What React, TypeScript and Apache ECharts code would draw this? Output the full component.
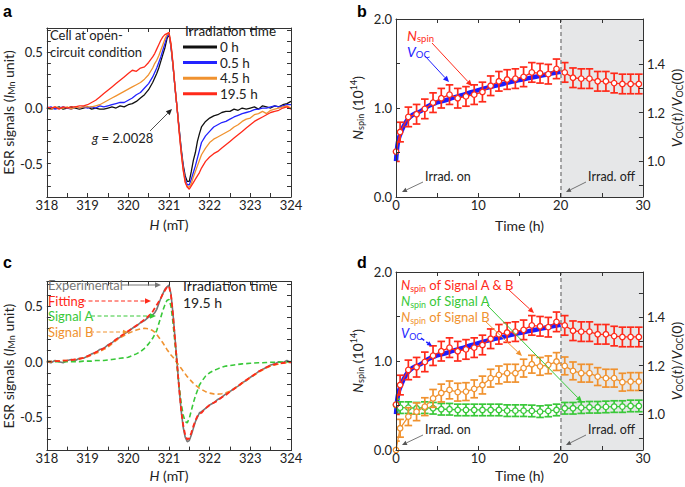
import React, { useEffect, useRef } from 'react';
import * as echarts from 'echarts';

const FONT = 'Lato, "Open Sans", sans-serif';

// ---------- Panel a / c : magnetic field grid (mT) ----------
const H_FIELD = [
  318.0, 318.1, 318.2, 318.3, 318.4, 318.5, 318.6, 318.7, 318.8, 318.9,
  319.0, 319.1, 319.2, 319.3, 319.4, 319.5, 319.6, 319.7, 319.8, 319.9,
  320.0, 320.1, 320.2, 320.3, 320.4, 320.5, 320.6, 320.65, 320.7, 320.75,
  320.8, 320.85, 320.9, 320.95, 321.0, 321.05, 321.1, 321.15, 321.2, 321.25,
  321.3, 321.35, 321.4, 321.45, 321.5, 321.55, 321.6, 321.65, 321.7, 321.75,
  321.8, 321.9, 322.0, 322.1, 322.2, 322.3, 322.4, 322.5, 322.6, 322.7,
  322.8, 322.9, 323.0, 323.1, 323.2, 323.3, 323.4, 323.5, 323.6, 323.7,
  323.8, 323.9, 324.0,
];

const ESR_0H = [
  0.00, -0.01, 0.00, 0.01, -0.01, 0.00, 0.01, 0.00, -0.01, 0.00,
  0.01, -0.01, 0.00, -0.01, -0.01, 0.00, 0.01, 0.00, 0.02, 0.01,
  0.03, 0.04, 0.06, 0.09, 0.12, 0.165, 0.23, 0.27, 0.31, 0.36,
  0.42, 0.48, 0.54, 0.62, 0.67, 0.55, 0.38, 0.18, 0.00, -0.18,
  -0.36, -0.51, -0.61, -0.66, -0.66, -0.57, -0.47, -0.40, -0.30, -0.23,
  -0.17, -0.12, -0.09, -0.07, -0.06, -0.04, -0.03, -0.03, -0.01, -0.02,
  0.00, -0.01, 0.00, 0.01, -0.01, 0.02, 0.01, 0.00, 0.02, 0.01,
  0.03, 0.04, 0.06,
];

const ESR_05H = [
  0.00, 0.01, -0.01, 0.00, 0.01, 0.00, -0.01, 0.01, 0.00, 0.01,
  0.00, 0.01, 0.00, 0.02, 0.01, 0.02, 0.03, 0.04, 0.05, 0.05,
  0.07, 0.09, 0.12, 0.14, 0.18, 0.22, 0.28, 0.32, 0.36, 0.41,
  0.46, 0.52, 0.58, 0.64, 0.67, 0.56, 0.38, 0.18, 0.00, -0.19,
  -0.38, -0.53, -0.64, -0.69, -0.69, -0.64, -0.58, -0.52, -0.45, -0.38,
  -0.31, -0.25, -0.21, -0.17, -0.15, -0.13, -0.12, -0.10, -0.08, -0.065,
  -0.05, -0.04, -0.03, -0.015, -0.01, 0.00, 0.00, 0.01, 0.02, 0.01,
  0.02, 0.03, 0.03,
];

const ESR_45H = [
  0.00, -0.01, 0.01, 0.00, 0.00, 0.01, -0.01, 0.01, 0.00, 0.01,
  0.01, 0.01, 0.02, 0.03, 0.05, 0.07, 0.09, 0.11, 0.13, 0.15,
  0.17, 0.19, 0.21, 0.23, 0.26, 0.30, 0.36, 0.40, 0.43, 0.47,
  0.52, 0.57, 0.62, 0.66, 0.68, 0.57, 0.39, 0.18, 0.00, -0.20,
  -0.39, -0.55, -0.66, -0.71, -0.71, -0.68, -0.62, -0.57, -0.52, -0.47,
  -0.42, -0.36, -0.31, -0.28, -0.26, -0.24, -0.22, -0.20, -0.17, -0.15,
  -0.12, -0.10, -0.09, -0.06, -0.05, -0.03, -0.05, -0.02, -0.01, 0.00,
  0.01, 0.02, 0.00,
];

const ESR_195H = [
  0.01, 0.00, 0.01, -0.01, 0.01, 0.00, 0.01, 0.01, 0.02, 0.02,
  0.03, 0.05, 0.07, 0.10, 0.13, 0.16, 0.19, 0.22, 0.25, 0.28,
  0.31, 0.34, 0.33, 0.36, 0.37, 0.41, 0.46, 0.49, 0.53, 0.57,
  0.61, 0.64, 0.66, 0.67, 0.68, 0.58, 0.40, 0.19, 0.00, -0.21,
  -0.40, -0.56, -0.67, -0.71, -0.73, -0.70, -0.67, -0.64, -0.61, -0.58,
  -0.54, -0.48, -0.44, -0.41, -0.39, -0.36, -0.33, -0.30, -0.27, -0.24,
  -0.21, -0.18, -0.15, -0.12, -0.10, -0.08, -0.06, -0.04, -0.03, -0.02,
  0.00, 0.01, -0.01,
];

const C_EXPERIMENTAL = [
  0.00, -0.01, 0.01, 0.00, -0.01, 0.01, 0.02, 0.01, 0.03, 0.03,
  0.05, 0.07, 0.08, 0.11, 0.12, 0.15, 0.17, 0.20, 0.22, 0.25,
  0.27, 0.30, 0.32, 0.35, 0.37, 0.40, 0.42, 0.44, 0.47, 0.52,
  0.57, 0.61, 0.65, 0.67, 0.69, 0.61, 0.43, 0.21, -0.01, -0.24,
  -0.44, -0.59, -0.68, -0.72, -0.71, -0.66, -0.60, -0.54, -0.50, -0.46,
  -0.45, -0.42, -0.39, -0.37, -0.34, -0.32, -0.29, -0.27, -0.24, -0.22,
  -0.19, -0.17, -0.14, -0.12, -0.09, -0.07, -0.05, -0.03, -0.02, 0.00,
  -0.01, 0.01, -0.01,
];

const C_FITTING = [
  0.00, 0.00, 0.005, 0.005, 0.01, 0.01, 0.015, 0.02, 0.025, 0.035,
  0.05, 0.065, 0.085, 0.10, 0.12, 0.145, 0.17, 0.20, 0.225, 0.25,
  0.275, 0.30, 0.325, 0.35, 0.38, 0.41, 0.45, 0.48, 0.51, 0.54,
  0.57, 0.61, 0.64, 0.67, 0.68, 0.60, 0.42, 0.20, -0.02, -0.24,
  -0.43, -0.57, -0.66, -0.70, -0.69, -0.64, -0.58, -0.53, -0.49, -0.47,
  -0.46, -0.42, -0.39, -0.37, -0.35, -0.32, -0.30, -0.27, -0.245, -0.22,
  -0.19, -0.165, -0.14, -0.115, -0.09, -0.07, -0.05, -0.035, -0.025, -0.018,
  -0.012, -0.008, -0.005,
];

const C_SIGNAL_A = [
  0.00, 0.00, 0.00, 0.00, 0.00, 0.00, 0.00, 0.00, 0.00, 0.005,
  0.005, 0.005, 0.01, 0.01, 0.01, 0.015, 0.02, 0.025, 0.03, 0.035,
  0.04, 0.055, 0.07, 0.09, 0.12, 0.16, 0.21, 0.245, 0.28, 0.34,
  0.40, 0.46, 0.51, 0.55, 0.56, 0.50, 0.35, 0.16, -0.04, -0.22,
  -0.37, -0.48, -0.54, -0.55, -0.51, -0.44, -0.37, -0.31, -0.26, -0.21,
  -0.18, -0.13, -0.10, -0.08, -0.065, -0.05, -0.04, -0.035, -0.03, -0.025,
  -0.02, -0.018, -0.015, -0.012, -0.01, -0.01, -0.008, -0.006, -0.005, -0.004,
  -0.003, -0.002, 0.00,
];

const C_SIGNAL_B = [
  0.00, 0.00, 0.005, 0.005, 0.01, 0.01, 0.015, 0.02, 0.025, 0.035,
  0.045, 0.06, 0.075, 0.09, 0.11, 0.13, 0.16, 0.19, 0.215, 0.235,
  0.255, 0.27, 0.285, 0.295, 0.30, 0.295, 0.28, 0.265, 0.245, 0.22,
  0.195, 0.17, 0.14, 0.11, 0.085, 0.06, 0.04, 0.015, -0.01, -0.035,
  -0.06, -0.085, -0.11, -0.135, -0.155, -0.175, -0.195, -0.21, -0.225, -0.24,
  -0.25, -0.27, -0.283, -0.29, -0.292, -0.288, -0.28, -0.265, -0.245, -0.22,
  -0.195, -0.17, -0.145, -0.12, -0.095, -0.075, -0.055, -0.04, -0.03, -0.02,
  -0.015, -0.01, -0.005,
];

// ---------- Panel b / d : time evolution ----------
const TIME_H = [
  0, 0.5, 1.5, 2.5, 3.5, 4.5, 5.5, 6.5, 7.5, 8.5, 9.5, 10.5, 11.5, 12.5, 13.5, 14.5,
  15.5, 16.5, 17.5, 18.5, 19.5, 20.5, 21.5, 22.5, 23.5, 24.5, 25.5, 26.5, 27.5, 28.5, 29.5,
];
const NSPIN_TOTAL = [
  0.51, 0.73, 0.90, 0.93, 0.99, 1.06, 1.11, 1.15, 1.11, 1.13, 1.15, 1.18, 1.25, 1.30, 1.32, 1.33,
  1.35, 1.40, 1.39, 1.38, 1.44, 1.40, 1.34, 1.33, 1.33, 1.30, 1.30, 1.28, 1.27, 1.27, 1.27,
];
const NSPIN_TOTAL_ERR = [
  0.11, 0.11, 0.11, 0.11, 0.11, 0.11, 0.11, 0.11, 0.11, 0.11, 0.11, 0.11, 0.11, 0.11, 0.11, 0.11,
  0.11, 0.11, 0.11, 0.11, 0.11, 0.11, 0.11, 0.11, 0.11, 0.11, 0.11, 0.11, 0.11, 0.11, 0.11,
];
const NSPIN_A = [
  0.506, 0.476, 0.476, 0.469, 0.476, 0.469, 0.458, 0.458, 0.45, 0.45, 0.45, 0.45, 0.45, 0.45, 0.442, 0.442,
  0.442, 0.439, 0.431, 0.439, 0.45, 0.469, 0.469, 0.476, 0.48, 0.48, 0.484, 0.488, 0.488, 0.495, 0.495,
];
const NSPIN_A_ERR = [
  0.065, 0.065, 0.065, 0.065, 0.065, 0.065, 0.065, 0.065, 0.065, 0.065, 0.065, 0.065, 0.065, 0.065, 0.065, 0.065,
  0.065, 0.065, 0.065, 0.065, 0.065, 0.065, 0.065, 0.065, 0.065, 0.065, 0.065, 0.065, 0.065, 0.065, 0.065,
];
const NSPIN_B = [
  0.0, 0.244, 0.375, 0.43, 0.487, 0.58, 0.64, 0.675, 0.65, 0.656, 0.687, 0.73, 0.807, 0.844, 0.863, 0.863,
  0.92, 0.964, 0.94, 0.957, 0.994, 0.945, 0.889, 0.863, 0.863, 0.825, 0.807, 0.807, 0.762, 0.769, 0.769,
];
const NSPIN_B_ERR = [
  0.1, 0.1, 0.1, 0.1, 0.1, 0.1, 0.1, 0.1, 0.1, 0.1, 0.1, 0.1, 0.1, 0.1, 0.1, 0.1,
  0.1, 0.1, 0.1, 0.1, 0.1, 0.1, 0.1, 0.1, 0.1, 0.1, 0.1, 0.1, 0.1, 0.1, 0.1,
];
const VOC_TIME = [0, 0.1, 0.25, 0.5, 0.75, 1, 1.5, 2, 3, 4, 5, 6, 7, 8, 9, 10, 11, 12, 13, 14, 15, 16, 17, 18, 19, 20];
const VOC_RATIO = [
  1.0, 1.04, 1.08, 1.11, 1.13, 1.148, 1.175, 1.19, 1.206, 1.228, 1.242, 1.251, 1.262, 1.272, 1.283, 1.293,
  1.302, 1.31, 1.318, 1.327, 1.334, 1.341, 1.348, 1.355, 1.362, 1.368,
];

const LEGEND_NAMES = ['0 h', '0.5 h', '4.5 h', '19.5 h'];
const COLORS = { black: '#111111', blue: '#2323ff', orange: '#f0922f', red: '#ff2a1a', green: '#39c839', gray: '#777777', voc: '#1e1eff' };

// ---------- helpers ----------
const zip = (xs: number[], ys: number[]) => xs.map((x, i) => [x, ys[i]]);

const AX_LINE = { show: true, onZero: false, lineStyle: { color: '#333', width: 1 } };
const TICK = { show: true, inside: true, length: 4, lineStyle: { color: '#333', width: 1 } };
const LABEL = { fontFamily: FONT, fontSize: 13, color: '#222' };

const NAME_RICH = (color = '#222') => ({
  i: { fontFamily: FONT, fontSize: 14, fontStyle: 'italic', color, fill: color },
  n: { fontFamily: FONT, fontSize: 14, color, fill: color },
  sub: { fontFamily: FONT, fontSize: 9, color, fill: color, padding: [7, 0, 0, 0] },
  sup: { fontFamily: FONT, fontSize: 9, color, fill: color, padding: [0, 0, 7, 0] },
});

const fmtInt = (v: number) => (Math.abs(v - Math.round(v)) < 1e-6 ? String(Math.round(v)) : '');
const fmtHalf = (v: number) => {
  const r = Math.round(v * 10);
  if (Math.abs(v * 10 - r) > 1e-6 || r % 5 !== 0) return '';
  return (r / 10).toFixed(1);
};
const fmtTen = (v: number) => (Math.abs(v - Math.round(v)) < 1e-6 && Math.round(v) % 10 === 0 ? String(Math.round(v)) : '');
const fmtOne = (v: number) => (Math.abs(v - Math.round(v)) < 1e-6 ? Math.round(v).toFixed(1) : '');
const fmtVoc = (v: number) => {
  const r = Math.round(v * 10);
  if (Math.abs(v * 10 - r) > 1e-6 || r % 2 !== 0) return '';
  return (r / 10).toFixed(1);
};

function xPair(grid: number, min: number, max: number, interval: number, fmt: (v: number) => string, name: string, nameGap: number) {
  return [
    {
      type: 'value', gridIndex: grid, position: 'bottom', min, max, interval, z: 10,
      axisLine: AX_LINE, axisTick: TICK, splitLine: { show: false },
      axisLabel: { ...LABEL, margin: 1, formatter: fmt },
      name, nameLocation: 'middle', nameGap,
      nameTextStyle: { fontFamily: FONT, fontSize: 14, color: '#222', rich: NAME_RICH() },
    },
    {
      type: 'value', gridIndex: grid, position: 'top', min, max, interval, z: 10,
      axisLine: AX_LINE, axisTick: TICK, splitLine: { show: false }, axisLabel: { show: false },
    },
  ];
}

function errBars(xIdx: number, yIdx: number, xs: number[], ys: number[], es: number[], color: string, z: number) {
  return {
    type: 'custom', xAxisIndex: xIdx, yAxisIndex: yIdx, z, clip: true, silent: true,
    data: xs.map((x, i) => [x, ys[i] - es[i], ys[i] + es[i]]),
    encode: { x: 0, y: [1, 2] },
    renderItem: (_p: any, api: any) => {
      const lo = api.coord([api.value(0), api.value(1)]);
      const hi = api.coord([api.value(0), api.value(2)]);
      const hw = 3.8;
      const style = { stroke: color, lineWidth: 1.7 };
      return {
        type: 'group',
        children: [
          { type: 'line', shape: { x1: lo[0], y1: lo[1], x2: hi[0], y2: hi[1] }, style },
          { type: 'line', shape: { x1: lo[0] - hw, y1: lo[1], x2: lo[0] + hw, y2: lo[1] }, style },
          { type: 'line', shape: { x1: hi[0] - hw, y1: hi[1], x2: hi[0] + hw, y2: hi[1] }, style },
        ],
      };
    },
  };
}

function pointLine(xIdx: number, yIdx: number, xs: number[], ys: number[], color: string, z: number) {
  return {
    type: 'line', xAxisIndex: xIdx, yAxisIndex: yIdx, z, silent: true,
    data: zip(xs, ys), symbol: 'circle', symbolSize: 5.5,
    itemStyle: { color: '#ffffff', borderColor: color, borderWidth: 1.3 },
    lineStyle: { color, width: 1.3 },
  };
}

function vocSeries(xIdx: number, yIdx: number) {
  return {
    type: 'line', xAxisIndex: xIdx, yAxisIndex: yIdx, z: 1, silent: true,
    data: zip(VOC_TIME, VOC_RATIO), showSymbol: false, smooth: true,
    lineStyle: { color: COLORS.voc, width: 4.5 },
    markArea: { silent: true, itemStyle: { color: '#e6e7e8' }, data: [[{ xAxis: 20 }, { xAxis: 30 }]] },
    markLine: {
      silent: true, symbol: 'none', label: { show: false },
      lineStyle: { color: '#8a8a8a', type: [4, 3], width: 1.5 },
      data: [{ xAxis: 20 }],
    },
  };
}

function arrow(x1: number, y1: number, x2: number, y2: number, color: string, dash = false, width = 1, head = 6) {
  const a = Math.atan2(y2 - y1, x2 - x1);
  const bx = x2 - head * Math.cos(a);
  const by = y2 - head * Math.sin(a);
  const w = head * 0.45;
  const px = -Math.sin(a) * w;
  const py = Math.cos(a) * w;
  return [
    { type: 'line', z: 50, silent: true, shape: { x1, y1, x2: bx, y2: by }, style: { stroke: color, lineWidth: width, lineDash: dash ? [4, 2.5] : null } },
    { type: 'polygon', z: 50, silent: true, shape: { points: [[x2, y2], [bx + px, by + py], [bx - px, by - py]] }, style: { fill: color } },
  ];
}

function txt(x: number, y: number, text: string, color = '#222', size = 13, extra: any = {}) {
  const rich = {
    i: { fontFamily: FONT, fontSize: size, fontStyle: 'italic', fill: color },
    sub: { fontFamily: FONT, fontSize: size * 0.68, fill: color, padding: [7, 0, 0, 0] },
  };
  return {
    type: 'text', x, y, z: 60, silent: true,
    style: { text, fill: color, fontFamily: FONT, fontSize: size, verticalAlign: 'middle', align: 'left', rich, ...extra },
  };
}

function panelLetter(x: number, y: number, t: string) {
  return {
    type: 'text', x, y, z: 60, silent: true,
    style: { text: t, fill: '#000', fontFamily: '"Liberation Sans", Arial, sans-serif', fontWeight: 'bold', fontSize: 16, verticalAlign: 'middle' },
  };
}

function buildOption() {
  const grids = [
    { left: 41, top: 28, width: 250, height: 169 },
    { left: 396, top: 19, width: 249, height: 178 },
    { left: 41, top: 281.6, width: 250, height: 169 },
    { left: 396, top: 272, width: 249, height: 178 },
  ];

  const xAxis = [
    ...xPair(0, 318, 324, 0.5, fmtInt, '{i|H}{n| (mT)}', 20),
    ...xPair(1, 0, 30, 5, fmtTen, 'Time (h)', 21),
    ...xPair(2, 318, 324, 0.5, fmtInt, '{i|H}{n| (mT)}', 18),
    ...xPair(3, 0, 30, 5, fmtTen, 'Time (h)', 18),
  ];

  const esrY = (grid: number) => [
    {
      type: 'value', gridIndex: grid, position: 'left', min: -0.8, max: 0.72, interval: 0.1, z: 10,
      axisLine: AX_LINE, axisTick: TICK, splitLine: { show: false },
      axisLabel: { ...LABEL, margin: 4, formatter: fmtHalf },
      name: '{n|ESR signals (}{i|I}{sub|Mn}{n| unit)}', nameLocation: 'middle', nameGap: 24, nameRotate: 90,
      nameTextStyle: { fontFamily: FONT, fontSize: 14, color: '#222', rich: NAME_RICH() },
    },
    {
      type: 'value', gridIndex: grid, position: 'right', min: -0.8, max: 0.72, interval: 0.1, z: 10,
      axisLine: AX_LINE, axisTick: TICK, splitLine: { show: false }, axisLabel: { show: false },
    },
  ];
  const timeY = (grid: number) => [
    {
      type: 'value', gridIndex: grid, position: 'left', min: 0, max: 2, interval: 0.5, z: 10,
      axisLine: AX_LINE, axisTick: TICK, splitLine: { show: false },
      axisLabel: { ...LABEL, margin: 4, formatter: fmtOne },
      name: '{i|N}{sub|spin}{n| (10}{sup|14}{n|)}', nameLocation: 'middle', nameGap: 31, nameRotate: 90,
      nameTextStyle: { fontFamily: FONT, fontSize: 14, color: '#222', rich: NAME_RICH() },
    },
    {
      type: 'value', gridIndex: grid, position: 'right', min: 0.852, max: 1.586, splitNumber: 5, z: 10,
      axisLine: AX_LINE, axisTick: TICK, splitLine: { show: false },
      axisLabel: { ...LABEL, margin: 4, formatter: fmtVoc },
      name: '{i|V}{sub|OC}{n|(}{i|t}{n|)/}{i|V}{sub|OC}{n|(0)}', nameLocation: 'middle', nameGap: 23, nameRotate: 90,
      nameTextStyle: { fontFamily: FONT, fontSize: 14, color: '#222', rich: NAME_RICH() },
    },
  ];
  const yAxis = [...esrY(0), ...timeY(1), ...esrY(2), ...timeY(3)];

  const esrLine = (name: string, xs: number[], ys: number[], color: string, z: number, xIdx: number, yIdx: number, dashed = false, width = 1.3) => ({
    name, type: 'line', xAxisIndex: xIdx, yAxisIndex: yIdx, z, silent: true,
    data: zip(xs, ys), showSymbol: false, symbol: 'none',
    itemStyle: { color },
    lineStyle: { color, width, type: dashed ? [5, 3] : 'solid' },
  });

  const series: any[] = [
    // panel a
    esrLine('0 h', H_FIELD, ESR_0H, COLORS.black, 2, 0, 0),
    esrLine('0.5 h', H_FIELD, ESR_05H, COLORS.blue, 3, 0, 0),
    esrLine('4.5 h', H_FIELD, ESR_45H, COLORS.orange, 4, 0, 0),
    esrLine('19.5 h', H_FIELD, ESR_195H, COLORS.red, 5, 0, 0),
    // panel b
    vocSeries(2, 3),
    errBars(2, 2, TIME_H, NSPIN_TOTAL, NSPIN_TOTAL_ERR, COLORS.red, 3),
    pointLine(2, 2, TIME_H, NSPIN_TOTAL, COLORS.red, 4),
    // panel c
    esrLine('Experimental', H_FIELD, C_EXPERIMENTAL, COLORS.gray, 2, 4, 4, false, 1.6),
    esrLine('Signal B', H_FIELD, C_SIGNAL_B, COLORS.orange, 3, 4, 4, true, 1.6),
    esrLine('Signal A', H_FIELD, C_SIGNAL_A, COLORS.green, 4, 4, 4, true, 1.6),
    esrLine('Fitting', H_FIELD, C_FITTING, COLORS.red, 5, 4, 4, true, 1.8),
    // panel d
    vocSeries(6, 7),
    errBars(6, 6, TIME_H, NSPIN_A, NSPIN_A_ERR, COLORS.green, 3),
    pointLine(6, 6, TIME_H, NSPIN_A, COLORS.green, 4),
    errBars(6, 6, TIME_H, NSPIN_B, NSPIN_B_ERR, COLORS.orange, 5),
    pointLine(6, 6, TIME_H, NSPIN_B, COLORS.orange, 6),
    errBars(6, 6, TIME_H, NSPIN_TOTAL, NSPIN_TOTAL_ERR, COLORS.red, 7),
    pointLine(6, 6, TIME_H, NSPIN_TOTAL, COLORS.red, 8),
  ];

  const graphic: any[] = [
    panelLetter(3, 11, 'a'),
    panelLetter(357, 11, 'b'),
    panelLetter(3, 262, 'c'),
    panelLetter(357, 262, 'd'),
    // panel a
    txt(50, 35, 'Cell at open-', '#222', 13),
    txt(50, 52, 'circuit condition', '#222', 13),
    txt(185, 31, 'Irradiation time', '#222', 13.5),
    txt(92, 138, '{i|g} = 2.0028', '#222', 13),
    ...arrow(150, 131, 172, 109, '#222', false, 0.8, 6),
    // panel b
    txt(407, 35, '{i|N}{sub|spin}', COLORS.red, 14),
    txt(407, 51, '{i|V}{sub|OC}', COLORS.voc, 14),
    ...arrow(432, 43, 472, 86, COLORS.red, false, 1, 6),
    ...arrow(425, 56, 449, 82, COLORS.voc, false, 1, 6),
    txt(425, 176, 'Irrad. on', '#222', 12.5),
    ...arrow(423, 182, 402, 192, '#555', false, 0.8, 5),
    txt(588, 176, 'Irrad. off', '#222', 12.5),
    ...arrow(586, 182, 566, 192, '#555', false, 0.8, 5),
    // panel c
    txt(48, 285, 'Experimental', COLORS.gray, 13),
    ...arrow(121, 285, 161, 285, COLORS.gray, false, 1, 6),
    txt(48, 301, 'Fitting', COLORS.red, 13),
    ...arrow(82, 301, 151, 301, COLORS.red, true, 1, 6),
    txt(48, 316, 'Signal A', COLORS.green, 13),
    ...arrow(91, 316, 156, 316, COLORS.green, true, 1, 6),
    txt(48, 332, 'Signal B', COLORS.orange, 13),
    ...arrow(90, 332, 128, 332, COLORS.orange, true, 1, 5),
    txt(183, 285, 'Irradiation time', '#222', 14),
    txt(183, 302, '19.5 h', '#222', 14),
    // panel d
    txt(401, 285, '{i|N}{sub|spin} of Signal A & B', COLORS.red, 13),
    txt(401, 301, '{i|N}{sub|spin} of Signal A', COLORS.green, 13),
    txt(401, 317, '{i|N}{sub|spin} of Signal B', COLORS.orange, 13),
    txt(401, 333, '{i|V}{sub|OC}', COLORS.voc, 13),
    ...arrow(509, 290, 534, 313, COLORS.red, false, 1, 6),
    ...arrow(487, 305, 582, 402, COLORS.green, false, 1, 6),
    ...arrow(485, 321, 522, 356, COLORS.orange, false, 1, 6),
    ...arrow(421, 338, 432, 346, COLORS.voc, true, 1.5, 5),
    txt(425, 429, 'Irrad. on', '#222', 12.5),
    ...arrow(423, 435, 402, 445, '#555', false, 0.8, 5),
    txt(588, 429, 'Irrad. off', '#222', 12.5),
    ...arrow(586, 435, 566, 445, '#555', false, 0.8, 5),
  ];

  return {
    animation: false,
    backgroundColor: '#ffffff',
    grid: grids,
    xAxis,
    yAxis,
    legend: {
      data: LEGEND_NAMES, orient: 'vertical', left: 183, top: 40, padding: 0,
      itemWidth: 34, itemHeight: 3, itemGap: 1.6, icon: 'rect', selectedMode: false,
      textStyle: { fontFamily: FONT, fontSize: 13.5, lineHeight: 14, color: '#222', padding: [0, 0, 0, -2] },
    },
    series,
    graphic,
  };
}

export default function App() {
  const ref = useRef<HTMLDivElement>(null);
  useEffect(() => {
    if (!ref.current) return;
    const chart = echarts.init(ref.current, null, { renderer: 'svg' });
    chart.setOption(buildOption() as any);
    return () => chart.dispose();
  }, []);
  return <div ref={ref} style={{ position: 'fixed', left: 0, top: 0, width: 685, height: 487, background: '#fff' }} />;
}
